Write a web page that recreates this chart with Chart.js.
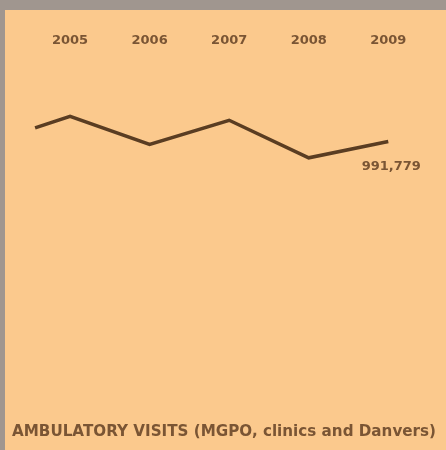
<!DOCTYPE html>
<html>
<head>
<meta charset="utf-8">
<script src="https://cdn.jsdelivr.net/npm/chart.js@4.4.1/dist/chart.umd.min.js"></script>
<style>
  html, body { margin: 0; padding: 0; background: #a0968f; }
  #frame { position: absolute; left: 5px; top: 10px; width: 441px; height: 440px; background: #fbc98d; }
  #chart { display: block; }
</style>
</head>
<body>
<div id="frame"><canvas id="chart" width="441" height="440"></canvas></div>
<script>
// Visites ambulatoires par année (la ligne commence avant 2005)
const years = [2004.56, 2005, 2006, 2007, 2008, 2009];
const visits = [1026800, 1056800, 984300, 1046800, 949300, 991779];
const tickYears = [2005, 2006, 2007, 2008, 2009];
const lastLabel = '991,779';
const titleText = 'AMBULATORY VISITS (MGPO, clinics and Danvers)';

const brown = '#7a5534';
const fontFamily = '"DejaVu Sans"';

// Étiquette de la dernière valeur, sous le point
const lastValuePlugin = {
    id: 'lastValue',
    afterDatasetsDraw(chart) {
        const pts = chart.getDatasetMeta(0).data;
        const p = pts[pts.length - 1];
        const ctx = chart.ctx;
        ctx.save();
        ctx.font = 'bold 13px ' + fontFamily;
        ctx.fillStyle = brown;
        ctx.textAlign = 'center';
        ctx.textBaseline = 'middle';
        ctx.fillText(lastLabel, p.x + 3, p.y + 25);
        ctx.restore();
    }
};

const ctx = document.getElementById('chart').getContext('2d');
new Chart(ctx, {
    type: 'line',
    data: {
        datasets: [{
            data: years.map((y, i) => ({ x: y, y: visits[i] })),
            borderColor: '#5a3d22',
            borderWidth: 3.5,
            pointRadius: 0,
            tension: 0,
            fill: false
        }]
    },
    options: {
        responsive: false,
        animation: false,
        layout: { padding: { top: 20, left: 7, right: 10, bottom: 0 } },
        plugins: {
            legend: { display: false },
            tooltip: { enabled: false },
            title: {
                display: true,
                text: titleText,
                position: 'bottom',
                align: 'start',
                color: brown,
                font: { family: fontFamily, weight: 'bold', size: 15.3 },
                padding: { top: 0, bottom: 9 }
            }
        },
        scales: {
            x: {
                type: 'linear',
                position: 'top',
                min: 2004.27,
                max: 2009.6,
                afterBuildTicks: (axis) => { axis.ticks = tickYears.map(v => ({ value: v })); },
                ticks: {
                    color: brown,
                    font: { family: fontFamily, weight: 'bold', size: 13 },
                    callback: (v) => String(v),
                    maxRotation: 0,
                    padding: 3
                },
                grid: { display: false },
                border: { display: false }
            },
            y: {
                display: false,
                min: 261779,
                max: 1204279
            }
        }
    },
    plugins: [lastValuePlugin]
});
</script>
</body>
</html>
